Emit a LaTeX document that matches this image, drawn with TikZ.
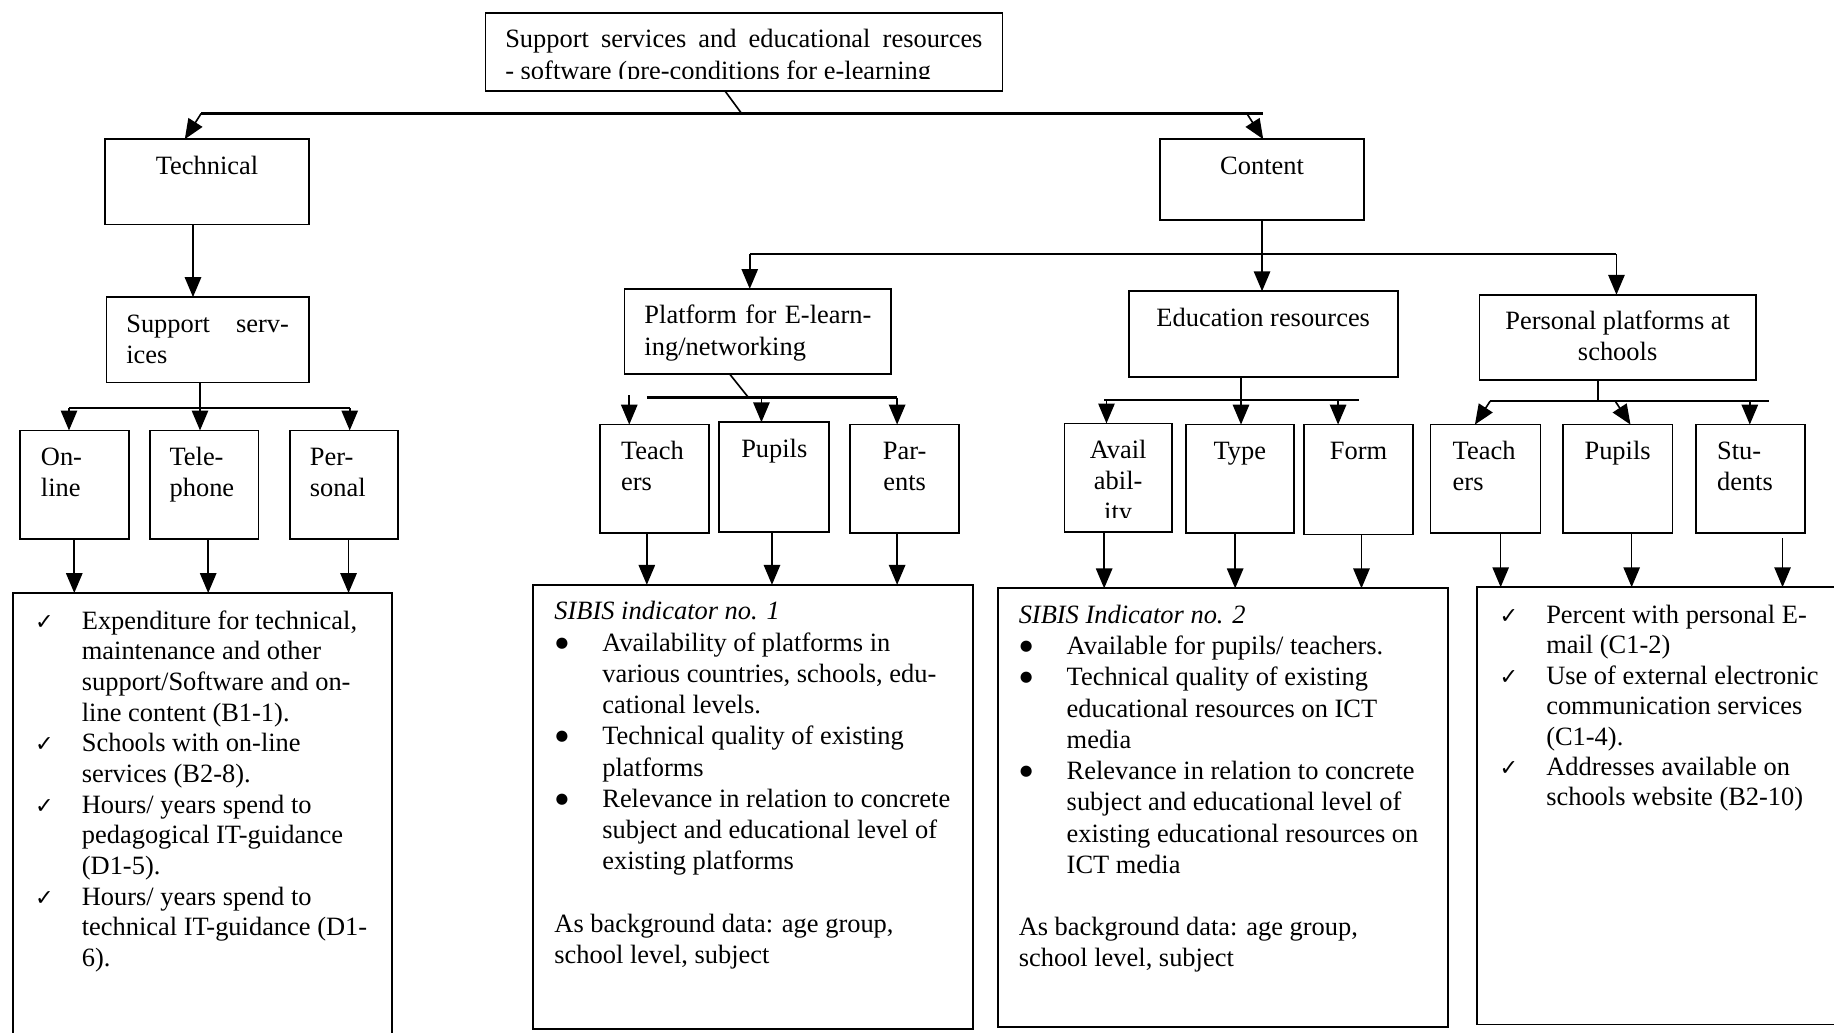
\documentclass[tikz,border=0pt]{standalone}
\usepackage{fontspec}
\setmainfont{Liberation Serif}
\newfontfamily\symfont{DejaVu Sans}
\usetikzlibrary{arrows.meta}

\newcommand\mainsize{\fontsize{22.6}{26.6}\selectfont}
% framed cell: width, height, paragraph setup, text (first baseline 30pt below the top)
\newcommand\boxcell[4]{\parbox[c][#2pt][t]{#1pt}{\mainsize#3\rule{0pt}{30pt}#4}}
% list markers hung 40pt to the left of the text column
\newcommand\chk{\leavevmode\llap{\makebox[40pt][l]{{\symfont\fontsize{19}{19}\selectfont ✓}}}}
\newcommand\bul{\leavevmode\llap{\makebox[40pt][l]{\raisebox{3.5pt}{\symfont\fontsize{12.5}{12.5}\selectfont ●}}}}
\hbadness=10000 \hfuzz=50pt

\begin{document}
\begin{tikzpicture}[x=1pt,y=-1pt,
  box/.style={draw, line width=1.5pt, inner sep=0pt, outer sep=0pt, anchor=north west},
  ln/.style={line width=1.4pt},
  arr/.style={line width=1.4pt, -{Triangle[width=14pt,length=17pt]}},
  bar/.style={line width=2.2pt}]
\useasboundingbox (0,0) rectangle (1568,883);
\clip (0,0) rectangle (1568,883);

% ---- top level ----
\node[box] (top) at (415,11) {\boxcell{442}{67}{\leftskip=17pt}{\makebox[408pt][s]{Support services and educational resources}\\- software (pre-conditions for e-learning}};
\node[box] (tech) at (90,119) {\boxcell{174}{73}{\centering}{Technical}};
\node[box] (cont) at (992,119) {\boxcell{174}{69}{\centering}{Content}};

% ---- technical branch ----
\node[box] (ss) at (91,254) {\boxcell{173}{73}{\leftskip=17pt}{\makebox[139pt][s]{Support serv-}\\ices}};
\node[box] (onl) at (17,368) {\boxcell{93}{93}{\leftskip=18pt}{On-\\line}};
\node[box] (tel) at (128,368) {\boxcell{93}{93}{\leftskip=17pt}{Tele-\\phone}};
\node[box] (per) at (248,368) {\boxcell{92}{93}{\leftskip=17pt}{Per-\\sonal}};

% ---- content branch ----
\node[box] (plat) at (534,247) {\boxcell{228}{73}{\leftskip=17pt}{\makebox[194pt][s]{Platform for E-learn-}\\ing/networking}};
\node[box] (edu) at (965,249) {\boxcell{230}{73}{\centering}{Education resources}};
\node[box] (pers) at (1265,252) {\boxcell{236}{73}{\centering}{Personal platforms at\\schools}};

\node[box] (tea) at (513,363) {\boxcell{93}{93}{\leftskip=18pt}{Teach\\ers}};
\node[box] (pup) at (615,361) {\boxcell{94}{94}{\centering}{Pupils}};
\node[box] (par) at (727,363) {\boxcell{93}{93}{\centering}{Par-\\ents}};

\node[box] (ava) at (910,362) {\boxcell{92}{93}{\centering}{Avail\\abil-\\ity}};
\node[box] (typ) at (1014,363) {\boxcell{92}{93}{\centering}{Type}};
\node[box] (frm) at (1115,363) {\boxcell{93}{94}{\centering}{Form}};

\node[box] (tea2) at (1223,363) {\boxcell{94}{93}{\leftskip=19pt}{Teach\\ers}};
\node[box] (pup2) at (1336,363) {\boxcell{94}{93}{\centering}{Pupils}};
\node[box] (stu) at (1450,363) {\boxcell{93}{93}{\leftskip=18pt}{Stu-\\dents}};

% text boxes cut off at their lower edge
\fill[white] (416.5,67.5) rectangle (855.5,77.2);
\fill[white] (911,443) rectangle (1001,454.2);

% ---- indicator boxes ----
\node[box] (b1) at (11,507) {\parbox[c][420pt][t]{324pt}{\fontsize{22.6}{26.2}\selectfont\leftskip=59pt
\rule{0pt}{31pt}\chk Expenditure for technical,\\ maintenance and other\\ support/Software and on-\\ line content (B1-1).\par
\chk Schools with on-line\\ services (B2-8).\par
\chk Hours/ years spend to\\ pedagogical IT-guidance\\ (D1-5).\par
\chk Hours/ years spend to\\ technical IT-guidance (D1-\\ 6).\par}};

\node[box] (b2) at (456,500) {\parbox[c][380pt][t]{376pt}{\fontsize{22.6}{26.7}\selectfont
{\leftskip=18pt \rule{0pt}{30pt}\textit{SIBIS indicator no. 1}\par}
{\leftskip=59pt \bul Availability of platforms in\\ various countries, schools, edu-\\ cational levels.\par
\bul Technical quality of existing\\ platforms\par
\bul Relevance in relation to concrete\\ subject and educational level of\\ existing platforms\par}
\vskip 26.7pt
{\leftskip=18pt As background data: age group,\\ school level, subject\par}}};

\node[box] (b3) at (853,503) {\parbox[c][375pt][t]{385pt}{\fontsize{22.6}{26.7}\selectfont
{\leftskip=18pt \rule{0pt}{30pt}\textit{SIBIS Indicator no. 2}\par}
{\leftskip=59pt \bul Available for pupils/ teachers.\par
\bul Technical quality of existing\\ educational resources on ICT\\ media\par
\bul Relevance in relation to concrete\\ subject and educational level of\\ existing educational resources on\\ ICT media\par}
\vskip 26.7pt
{\leftskip=18pt As background data: age group,\\ school level, subject\par}}};

\node[box] (b4) at (1263,502) {\parbox[c][374pt][t]{330pt}{\fontsize{22.6}{26}\selectfont\leftskip=59pt
\rule{0pt}{31pt}\chk Percent with personal E-\\ mail (C1-2)\par
\chk Use of external electronic\\ communication services\\ (C1-4).\par
\chk Addresses available on\\ schools website (B2-10)\par}};

% ---- connectors: top split ----
\coordinate (tj) at (634,97);
\coordinate (tL) at (172,97);
\coordinate (tR) at (1080,97);
\coordinate (tR2) at (1066,97);
\draw[ln] ([xshift=-16pt]top.south) -- (tj);
\draw[bar] (tL) -- (tR);
\draw[arr] (tL) -- ([xshift=-19pt]tech.north);
\draw[arr] (tR2) -- ([xshift=1pt]cont.north);

% technical branch
\draw[arr] ([xshift=-12pt]tech.south) -- ([xshift=-12pt]tech.south |- ss.north);
\draw[arr] ([xshift=-6.5pt]ss.south) -- ([xshift=-6.5pt]ss.south |- tel.north);
\coordinate (sL) at (59,349);
\coordinate (sR) at (299,349);
\draw[bar] (sL) -- (sR);
\draw[arr] (sL) -- (sL |- onl.north);
\draw[arr] (sR) -- (sR |- per.north);
\draw[arr] (onl.south) -- (onl.south |- b1.north);
\draw[arr] ([xshift=3.5pt]tel.south) -- ([xshift=3.5pt]tel.south |- b1.north);
\draw[arr] ([xshift=4pt]per.south) -- ([xshift=4pt]per.south |- b1.north);

% content branch
\draw[arr] (cont.south) -- (cont.south |- edu.north);
\coordinate (cL) at (641,217);
\coordinate (cR) at (1382,217);
\draw[bar] (cL) -- (cR);
\draw[arr] (cL) -- (cL |- plat.north);
\draw[arr] (cR) -- (cR |- pers.north);

% platform sub-branch
\coordinate (pJ) at (640,340);
\coordinate (pL) at (553,340);
\coordinate (pR) at (767,340);
\coordinate (pT) at (538,338);
\coordinate (pP) at (651,340);
\draw[ln] ([xshift=-24pt]plat.south) -- (pJ);
\draw[bar] (pL) -- (pR);
\draw[arr] (pT) -- (pT |- tea.north);
\draw[arr] (pP) -- (pP |- pup.north);
\draw[arr] (pR) -- (pR |- par.north);
\draw[arr] ([xshift=-6.5pt]tea.south) -- ([xshift=-6.5pt]tea.south |- b2.north);
\draw[arr] ([xshift=-2pt]pup.south) -- ([xshift=-2pt]pup.south |- b2.north);
\draw[arr] ([xshift=-6.5pt]par.south) -- ([xshift=-6.5pt]par.south |- b2.north);

% education sub-branch
\coordinate (eL) at (944,342);
\coordinate (eR) at (1162,342);
\coordinate (eA) at (946,342);
\coordinate (eF) at (1144,342);
\draw[arr] ([xshift=-19pt]edu.south) -- ([xshift=-19pt]edu.south |- typ.north);
\draw[bar] (eL) -- (eR);
\draw[arr] (eA) -- (eA |- ava.north);
\draw[arr] (eF) -- (eF |- frm.north);
\draw[arr] ([xshift=-12pt]ava.south) -- ([xshift=-12pt]ava.south |- b3.north);
\draw[arr] ([xshift=-4pt]typ.south) -- ([xshift=-4pt]typ.south |- b3.north);
\draw[arr] ([xshift=2.5pt]frm.south) -- ([xshift=2.5pt]frm.south |- b3.north);

% personal platforms sub-branch
\coordinate (qL) at (1274,343);
\coordinate (qR) at (1512,343);
\coordinate (qP) at (1381,343);
\coordinate (qS) at (1496,343);
\draw[ln] ([xshift=-17pt]pers.south) -- ([xshift=-17pt]pers.south |- qL);
\draw[bar] (qL) -- (qR);
\draw[arr] (qL) -- ([xshift=-9pt]tea2.north);
\draw[arr] (qP) -- ([xshift=11pt]pup2.north);
\draw[arr] (qS) -- (qS |- stu.north);
\draw[arr] ([xshift=13pt]tea2.south) -- ([xshift=13pt]tea2.south |- b4.north);
\draw[arr] ([xshift=12pt]pup2.south) -- ([xshift=12pt]pup2.south |- b4.north);
\draw[arr] ([xshift=27.5pt,yshift=-4pt]stu.south) -- ([xshift=27.5pt]stu.south |- b4.north);
\end{tikzpicture}
\end{document}
